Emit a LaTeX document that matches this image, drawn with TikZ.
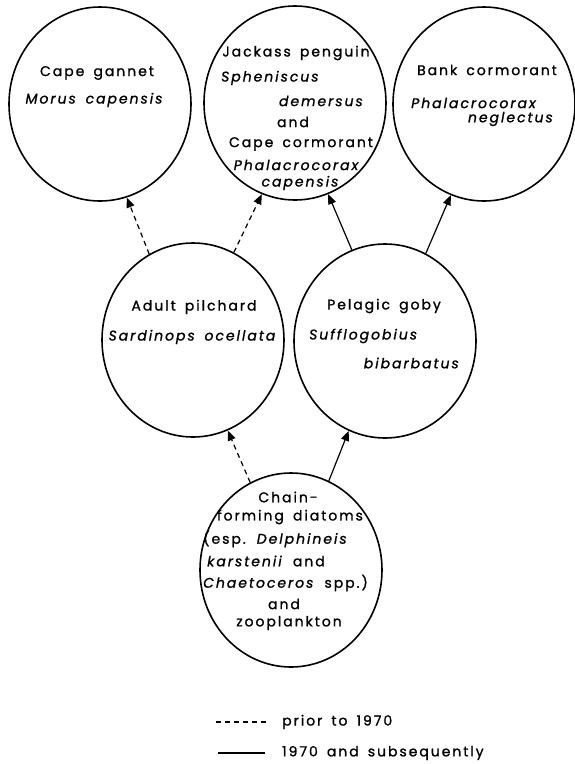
\documentclass[tikz,border=0pt]{standalone}
\usepackage{fontspec}
\setmainfont{Poppins}[LetterSpace=14,WordSpace=1.6,FakeBold=1.2,
  ItalicFeatures={FakeBold=1.2}]
\usetikzlibrary{shapes.geometric,arrows.meta}

\begin{document}
\begin{tikzpicture}[x=1pt,y=-1pt,
  prey/.style={draw,ellipse,line width=1.6pt,minimum width=182pt,minimum height=194pt,inner sep=0pt},
  lbl/.style={inner sep=0pt,font=\fontsize{14}{16}\selectfont},
  sp/.style={inner sep=0pt,font=\fontsize{14}{16}\selectfont\itshape},
  pre70/.style={line width=1.2pt,dash pattern=on 5pt off 4pt,-{Triangle[length=10pt,width=8pt]}},
  post70/.style={line width=1.2pt,-{Triangle[length=10pt,width=8pt]}}]
\useasboundingbox (0,0) rectangle (575,764);
% birds
\node[prey] (gannet) at (100,104) {};
\node[prey] (penguin) at (295,103) {};
\node[prey] (bank) at (484,104) {};
% fish
\node[prey] (pilchard) at (193,340) {};
\node[prey] (goby) at (385,341) {};
% plankton
\node[prey] (chain) at (291,570) {};
% labels
\node[lbl] (gannetA) at (97,73) {Cape gannet};
\node[sp] (gannetB) at (94,100) {Morus capensis};
\node[lbl] (penguinA) at (296,53) {Jackass penguin};
\node[sp,anchor=west] (penguinB) at (221,78) {Spheniscus};
\node[sp,anchor=east] (penguinC) at (363,101) {demersus};
\node[lbl] (penguinD) at (293,122) {and};
\node[lbl] (penguinE) at (301,144) {Cape cormorant};
\node[sp] (penguinF) at (296,165) {Phalacrocorax};
\node[sp] (penguinG) at (300,183) {capensis};
\node[lbl] (bankA) at (487,70) {Bank cormorant};
\node[sp,anchor=west] (bankB) at (411,103) {Phalacrocorax};
\node[sp,anchor=east] (bankC) at (553,119) {neglectus};
\node[lbl] (pilchardA) at (194,307) {Adult pilchard};
\node[sp] (pilchardB) at (192,337) {Sardinops ocellata};
\node[lbl] (gobyA) at (384,306) {Pelagic goby};
\node[sp,anchor=west] (gobyB) at (309,336) {Sufflogobius};
\node[sp,anchor=east] (gobyC) at (459,363) {bibarbatus};
\node[lbl] (chainA) at (288,497) {Chain-};
\node[lbl] (chainB) at (290,517) {forming diatoms};
\node[lbl,anchor=west] (chainC) at (203,539) {(esp. \textit{Delphineis}};
\node[lbl,anchor=west] (chainD) at (207,561) {\textit{karstenii} and};
\node[lbl,anchor=west] (chainE) at (203,583) {\textit{Chaetoceros} spp.)};
\node[lbl] (chainF) at (284,604) {and};
\node[lbl] (chainG) at (289,623) {zooplankton};
% feeding links
\draw[pre70] (pilchard.117) -- (gannet.286);
\draw[pre70] (pilchard.65) -- (penguin.250);
\draw[post70] (goby.110) -- (penguin.290);
\draw[post70] (goby.65) -- (bank.250);
\draw[pre70] (chain.115) -- (pilchard.291);
\draw[post70] (chain.67) -- (goby.248);
% key
\coordinate (d1) at (216,722);
\coordinate (d2) at (268,722);
\draw[line width=1.2pt,dash pattern=on 5pt off 4pt] (d1) -- (d2);
\node[lbl,anchor=west] (keyA) at (282,722) {prior to 1970};
\coordinate (s1) at (218,753);
\coordinate (s2) at (265,753);
\draw[line width=1.2pt] (s1) -- (s2);
\node[lbl,anchor=west] (keyB) at (282,753) {1970 and subsequently};
\end{tikzpicture}
\end{document}
